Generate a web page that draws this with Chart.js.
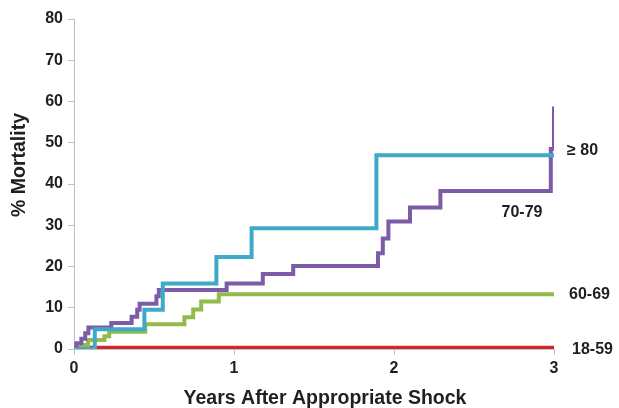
<!DOCTYPE html>
<html>
<head>
<meta charset="utf-8">
<script src="https://cdn.jsdelivr.net/npm/chart.js@4.4.1/dist/chart.umd.min.js"></script>
<style>
  html, body { margin: 0; padding: 0; background: #ffffff; }
  #wrap { width: 619px; height: 408px; }
</style>
</head>
<body>
<div id="wrap"><canvas id="c" width="619" height="408"></canvas></div>
<script>
// ---- Data ----
const seriesNames = ["≥ 80", "70-79", "60-69", "18-59"];

const age80Years = [0, 0.13, 0.44, 0.555, 0.89, 1.11, 1.89, 3];
const age80Mort  = [0, 4.8, 9.5, 15.9, 22.3, 29.3, 47.0, 47.0];

const age70Years = [0, 0.015, 0.046, 0.07, 0.09, 0.233, 0.36, 0.395, 0.41, 0.515, 0.53, 0.954, 1.18, 1.37, 1.90, 1.93, 1.965, 2.10, 2.29, 2.98, 3.0];
const age70Mort  = [0, 1.4, 2.5, 3.8, 5.2, 6.3, 7.8, 9.5, 11.0, 12.8, 14.3, 15.9, 18.2, 20.1, 23.2, 26.8, 30.9, 34.3, 38.3, 48.5, 58.8];

const age60Years = [0, 0.045, 0.088, 0.19, 0.22, 0.445, 0.69, 0.745, 0.795, 0.905, 3];
const age60Mort  = [0, 1.0, 2.2, 3.1, 4.2, 6.0, 7.7, 9.6, 11.5, 13.3, 13.3];

const age18Years = [0, 3];
const age18Mort  = [0.3, 0.3];

const xTicks = [0, 1, 2, 3];
const yTicks = [0, 10, 20, 30, 40, 50, 60, 70, 80];

const xTitle = "Years After Appropriate Shock";
const yTitle = "% Mortality";

// label anchors in data units: [text, year, mortality, side]
const seriesLabels = [
  ["≥ 80", 3, 48.0, "right"],
  ["70-79", 2.8, 33.0, "center"],
  ["60-69", 3, 13.3, "right"],
  ["18-59", 3, -0.2, "right"]
];

const toPts = (xs, ys) => xs.map((x, i) => ({ x: x, y: ys[i] }));

const FONT = "'Liberation Sans', Arial, Helvetica, sans-serif";
const TEXT = "#1f1f1f";
const AXIS = "#bfbfbf";

const labelPlugin = {
  id: "seriesLabels",
  afterDatasetsDraw(chart) {
    const { ctx, scales, chartArea } = chart;
    ctx.save();
    ctx.fillStyle = TEXT;
    ctx.font = "bold 16px " + FONT;
    ctx.textBaseline = "middle";
    seriesLabels.forEach(([t, xv, yv, side], i) => {
      const px = scales.x.getPixelForValue(xv);
      const py = scales.y.getPixelForValue(yv);
      if (side === "right") {
        ctx.textAlign = "left";
        ctx.fillText(t, px + (i === 0 ? 13 : (i === 3 ? 18 : 15)), py);
      } else {
        ctx.textAlign = "center";
        ctx.fillText(t, px, py);
      }
    });
    // x axis title
    ctx.font = "bold 19.5px " + FONT;
    ctx.textAlign = "center";
    ctx.textBaseline = "alphabetic";
    ctx.fillText(xTitle, (chartArea.left + chartArea.right) / 2 + 11, 404);
    // y axis title
    ctx.translate(20, 165);
    ctx.rotate(-Math.PI / 2);
    ctx.textBaseline = "middle";
    ctx.fillText(yTitle, 0, 0);
    ctx.restore();
  }
};

const common = { fill: false, pointRadius: 0, borderWidth: 4, stepped: true, tension: 0, borderCapStyle: "butt", borderJoinStyle: "miter" };

new Chart(document.getElementById("c"), {
  type: "line",
  data: {
    datasets: [
      Object.assign({ label: seriesNames[0], data: toPts(age80Years, age80Mort), borderColor: "#3fa9c9" }, common),
      Object.assign({ label: seriesNames[1], data: toPts(age70Years, age70Mort), borderColor: "#7d5ba6" }, common),
      Object.assign({ label: seriesNames[2], data: toPts(age60Years, age60Mort), borderColor: "#92bb4c" }, common),
      Object.assign({ label: seriesNames[3], data: toPts(age18Years, age18Mort), borderColor: "#d0282a" }, common)
    ]
  },
  options: {
    responsive: false,
    animation: false,
    layout: { padding: { top: 19, right: 65, left: 0, bottom: 0 } },
    plugins: { legend: { display: false }, tooltip: { enabled: false } },
    scales: {
      x: {
        type: "linear",
        min: 0, max: 3,
        afterBuildTicks(s) { s.ticks = xTicks.map(v => ({ value: v })); },
        afterFit(s) { s.height = 59; },
        grid: { drawOnChartArea: false, drawTicks: true, tickLength: 6, color: AXIS },
        border: { color: AXIS, width: 1 },
        ticks: { color: TEXT, font: { family: FONT, size: 16, weight: "bold" }, padding: 4, maxRotation: 0 },
        title: { display: false }
      },
      y: {
        min: 0, max: 80,
        afterBuildTicks(s) { s.ticks = yTicks.map(v => ({ value: v })); },
        afterFit(s) { s.width = 74; },
        grid: { drawOnChartArea: false, drawTicks: true, tickLength: 6, color: AXIS },
        border: { color: AXIS, width: 1 },
        ticks: { color: TEXT, font: { family: FONT, size: 16, weight: "bold" }, padding: 5 }
      }
    }
  },
  plugins: [labelPlugin]
});
</script>
</body>
</html>
